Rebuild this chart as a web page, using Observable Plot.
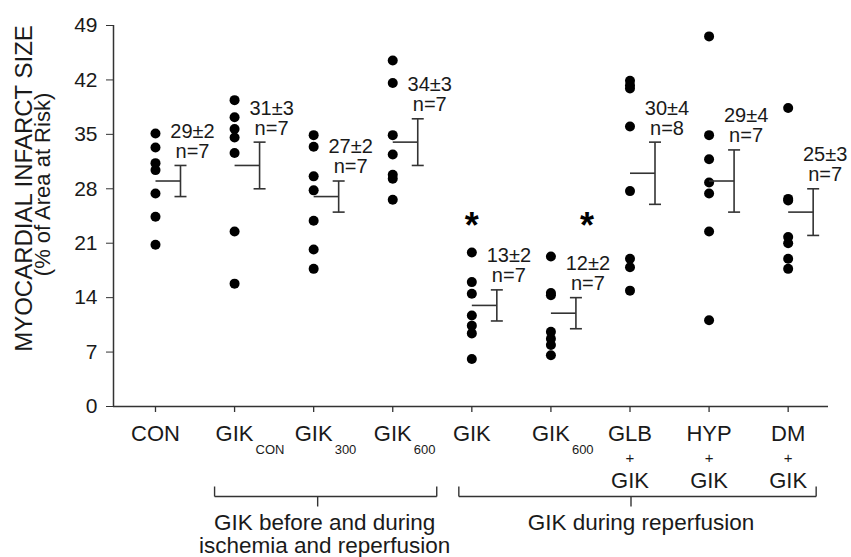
<!DOCTYPE html>
<html><head><meta charset="utf-8">
<script src="https://cdn.jsdelivr.net/npm/d3@7"></script>
<script src="https://cdn.jsdelivr.net/npm/@observablehq/plot@0.6"></script>
<style>body{margin:0;background:#fff}</style>
</head><body><div id="chart"></div>
<script>
// ---- data ----
const categories = ["CON","GIK_CON","GIK_300","GIK_600","GIK","GIK_600 rep","GLB+GIK","HYP+GIK","DM+GIK"];
const tickMain  = ["CON","GIK","GIK","GIK","GIK","GIK","GLB","HYP","DM"];
const tickSub   = ["","CON","300","600","","600","","",""];
const tickLower = ["","","","","","","GIK","GIK","GIK"];

const conValues     = [35.1, 33.3, 31.3, 30.4, 27.4, 24.4, 20.8];
const gikConValues  = [39.4, 37.2, 35.7, 34.6, 32.6, 22.5, 15.8];
const gik300Values  = [34.9, 33.4, 29.6, 27.8, 23.9, 20.2, 17.7];
const gik600Values  = [44.5, 41.6, 34.9, 32.4, 29.8, 29.3, 26.6];
const gikRepValues  = [19.8, 16.0, 14.5, 11.7, 10.4, 9.4, 6.1];
const gik600RepValues = [19.3, 14.6, 14.3, 9.6, 8.7, 7.9, 6.6];
const glbGikValues  = [41.9, 41.3, 40.9, 36.0, 27.7, 19.0, 17.9, 14.9];
const hypGikValues  = [47.6, 34.9, 31.8, 28.8, 27.4, 22.5, 11.1];
const dmGikValues   = [38.4, 26.7, 26.5, 21.8, 21.0, 19.0, 17.7];

const means = [29, 31, 27, 34, 13, 12, 30, 29, 25];
const sems  = [2, 3, 2, 3, 2, 2, 4, 4, 3];
const ns    = [7, 7, 7, 7, 7, 7, 8, 7, 7];
const starGroups = [4, 5];

const yTicks = [0, 7, 14, 21, 28, 35, 42, 49];

const bracketLines1 = ["GIK before and during", "GIK during reperfusion"];
const bracketLines2 = ["ischemia and reperfusion", ""];
const bracketFirst = [1, 4];   // first category in bracket
const bracketLast  = [3, 8];   // last category in bracket
const bracketMid   = [2, 6];   // category under the centre tick

// ---- layout ----
const W = 851, H = 557;
const mL = 113, mR = 23, mT = 25, mB = 151;
const xDomain = [-0.531, 8.51];
const ppx = (W - mL - mR) / (xDomain[1] - xDomain[0]);
const ppy = (H - mT - mB) / 49;
const px = p => p / ppx;          // pixels -> category units
const below = p => -p / ppy;      // pixels below the x axis -> y units

const groups = [conValues, gikConValues, gik300Values, gik600Values, gikRepValues,
                gik600RepValues, glbGikValues, hypGikValues, dmGikValues];
const points = groups.flatMap((vals, i) => vals.map(v => ({i, v})));
const idx = categories.map((c, i) => i);
const stats = idx.map(i => ({i, m: means[i], s: sems[i], n: ns[i]}));
const brackets = bracketLines1.map((t, k) => ({
  k, t1: t, t2: bracketLines2[k], a: bracketFirst[k], b: bracketLast[k], c: bracketMid[k]
}));
// bracket ends extend past the outer categories (pixel offsets)
const bracketLeftPad = [-20, -13], bracketRightPad = [44, 28], bracketMidPad = [4, 1], bracketTextPad = [11, 11];

const ink = "#1a1a1a", line = "#333";

const chart = Plot.plot({
  width: W, height: H,
  marginLeft: mL, marginRight: mR, marginTop: mT, marginBottom: mB,
  x: {type: "linear", domain: xDomain, axis: null},
  y: {type: "linear", domain: [0, 49], axis: null},
  style: {fontFamily: "Liberation Sans, Arial, Helvetica, sans-serif", color: ink, background: "white", overflow: "visible"},
  marks: [
    // axes
    Plot.ruleY([0], {stroke: line, strokeWidth: 1.5}),
    Plot.ruleX([xDomain[0]], {y1: 0, y2: 49, stroke: line, strokeWidth: 1.5}),
    Plot.axisY({ticks: yTicks, tickSize: 7, tickPadding: 9, fontSize: 21, label: null, stroke: line, fill: ink}),
    Plot.ruleX(idx, {x: d => d, y1: 0, y2: below(6), stroke: line, strokeWidth: 1.3}),
    // x tick labels
    Plot.text(idx, {x: d => d, y: 0, text: i => tickMain[i], dy: 27, fontSize: 22, lineAnchor: "middle", fill: ink}),
    Plot.text(idx.filter(i => tickSub[i]), {x: d => d, y: 0, text: i => tickSub[i], dx: 21, dy: 43, fontSize: 13, textAnchor: "start", lineAnchor: "middle", fill: ink}),
    Plot.text(idx.filter(i => tickLower[i]), {x: d => d, y: 0, text: () => "+", dy: 52, fontSize: 15, lineAnchor: "middle", fill: ink}),
    Plot.text(idx.filter(i => tickLower[i]), {x: d => d, y: 0, text: i => tickLower[i], dy: 74, fontSize: 22, lineAnchor: "middle", fill: ink}),
    // data points
    Plot.dot(points, {x: "i", y: "v", r: 5, fill: "black", stroke: "none"}),
    // mean and SE bars
    Plot.link(stats, {x1: d => d.i, x2: d => d.i + px(25), y1: "m", y2: "m", stroke: line, strokeWidth: 1.6}),
    Plot.link(stats, {x1: d => d.i + px(25), x2: d => d.i + px(25), y1: d => d.m - d.s, y2: d => d.m + d.s, stroke: line, strokeWidth: 1.6}),
    Plot.link(stats, {x1: d => d.i + px(19), x2: d => d.i + px(31), y1: d => d.m + d.s, y2: d => d.m + d.s, stroke: line, strokeWidth: 1.6}),
    Plot.link(stats, {x1: d => d.i + px(19), x2: d => d.i + px(31), y1: d => d.m - d.s, y2: d => d.m - d.s, stroke: line, strokeWidth: 1.6}),
    // value labels
    Plot.text(stats, {x: "i", y: d => d.m + d.s, text: d => `${d.m}±${d.s}`, dx: 37, dy: -34, fontSize: 20, lineAnchor: "middle", fill: ink}),
    Plot.text(stats, {x: "i", y: d => d.m + d.s, text: d => `n=${d.n}`, dx: 37, dy: -14, fontSize: 20, lineAnchor: "middle", fill: ink}),
    // significance stars
    Plot.text([starGroups[0]], {x: d => d, y: 24.2, text: () => "*", dy: 20, fontSize: 36, fontWeight: "bold", lineAnchor: "bottom", fill: "black"}),
    Plot.text([starGroups[1]], {x: d => d, y: 24.2, text: () => "*", dx: 36, dy: 20, fontSize: 36, fontWeight: "bold", lineAnchor: "bottom", fill: "black"}),
    // group brackets
    Plot.link(brackets, {x1: d => d.a + px(bracketLeftPad[d.k]), x2: d => d.b + px(bracketRightPad[d.k]), y1: below(90), y2: below(90), stroke: line, strokeWidth: 1.4}),
    Plot.link(brackets, {x1: d => d.a + px(bracketLeftPad[d.k]), x2: d => d.a + px(bracketLeftPad[d.k]), y1: below(80), y2: below(90), stroke: line, strokeWidth: 1.4}),
    Plot.link(brackets, {x1: d => d.b + px(bracketRightPad[d.k]), x2: d => d.b + px(bracketRightPad[d.k]), y1: below(80), y2: below(90), stroke: line, strokeWidth: 1.4}),
    Plot.link(brackets, {x1: d => d.c + px(bracketMidPad[d.k]), x2: d => d.c + px(bracketMidPad[d.k]), y1: below(90), y2: below(100), stroke: line, strokeWidth: 1.4}),
    Plot.text(brackets, {x: d => d.c + px(bracketTextPad[d.k]), y: 0, text: "t1", dy: 116, fontSize: 22.5, lineAnchor: "middle", fill: ink}),
    Plot.text(brackets, {x: d => d.c + px(bracketTextPad[d.k]), y: 0, text: "t2", dy: 139, fontSize: 22.5, lineAnchor: "middle", fill: ink}),
    // y axis title
    Plot.text(["MYOCARDIAL INFARCT SIZE"], {frameAnchor: "left", text: d => d, rotate: -90, dx: -89.5, dy: -27.5, fontSize: 24, textAnchor: "middle", lineAnchor: "middle", fill: ink}),
    Plot.text(["(% of Area at Risk)"], {frameAnchor: "left", text: d => d, rotate: -90, dx: -71, dy: -31.5, fontSize: 22, textAnchor: "middle", lineAnchor: "middle", fill: ink})
  ]
});
document.getElementById("chart").appendChild(chart);
</script>
</body></html>
